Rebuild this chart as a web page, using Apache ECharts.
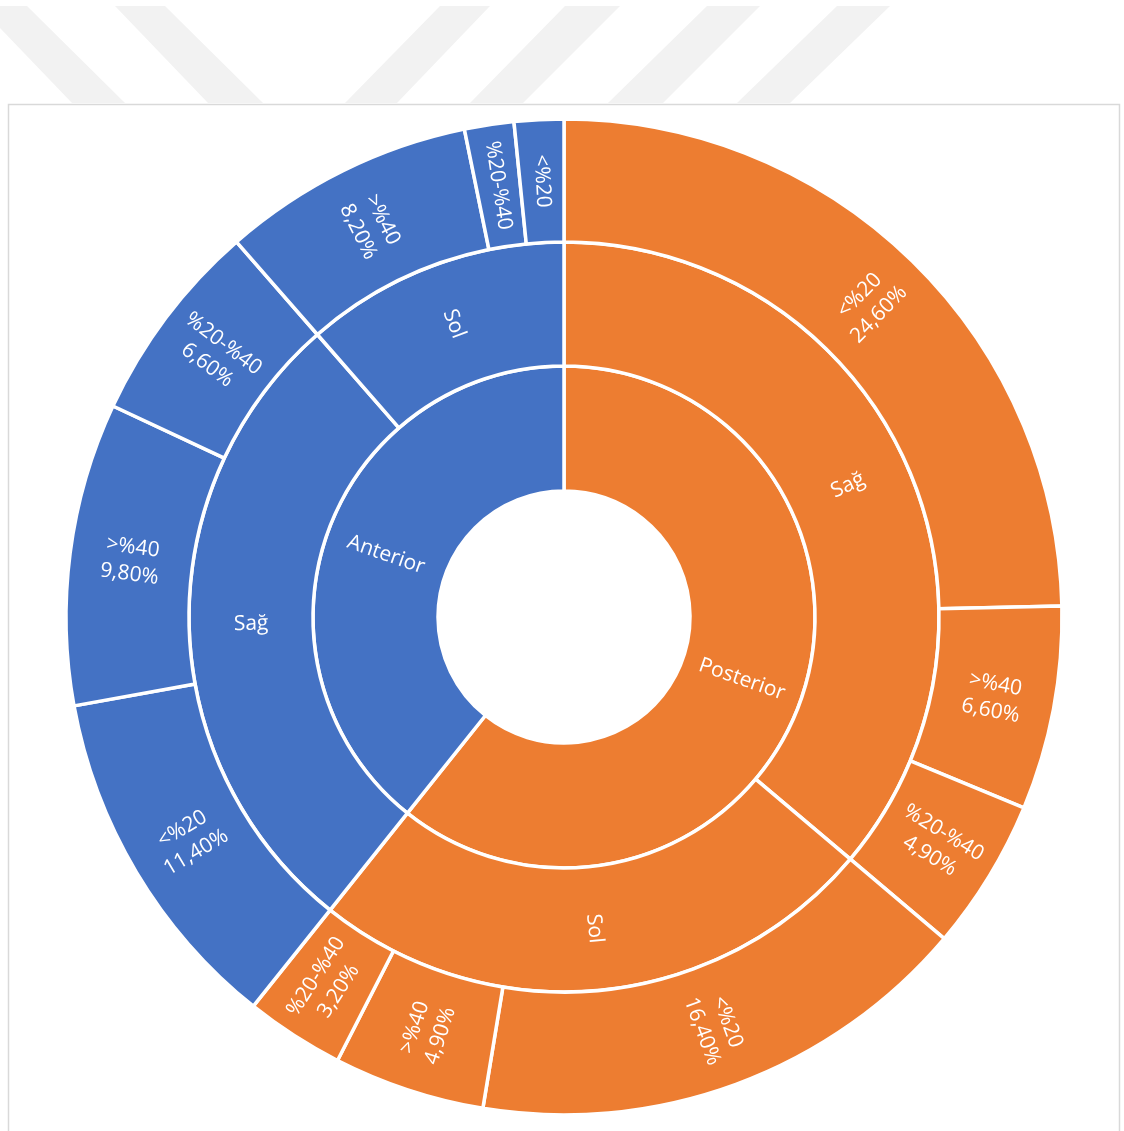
<!DOCTYPE html>
<html>
<head>
<meta charset="utf-8">
<title>Sunburst</title>
<script src="https://cdn.jsdelivr.net/npm/echarts@6/dist/echarts.min.js"></script>
<style>
  html, body { margin: 0; padding: 0; background: #ffffff; }
  #chart { width: 1124px; height: 1131px; }
</style>
</head>
<body>
<div id="chart"></div>
<script>
// Group (inner ring) and side (middle ring) names
const groupNames = ['Posterior', 'Anterior'];
const groupColors = ['#ED7D31', '#4472C4'];
const sideNames = ['Sağ', 'Sol'];

// Outer ring: percentage bands per group / side
const postSagNames = ['<%20', '>%40', '%20-%40'];
const postSagValues = [24.6, 6.6, 4.9];
const postSolNames = ['<%20', '>%40', '%20-%40'];
const postSolValues = [16.4, 4.9, 3.2];
const antSagNames = ['<%20', '>%40', '%20-%40'];
const antSagValues = [11.4, 9.8, 6.6];
const antSolNames = ['>%40', '%20-%40', '<%20'];
const antSolValues = [8.2, 1.6, 1.6];

function leaves(names, values, color) {
  return names.map((n, i) => ({ name: n, value: values[i], itemStyle: { color: color } }));
}

function group(idx, sagNames, sagValues, solNames, solValues) {
  const c = groupColors[idx];
  return {
    name: groupNames[idx],
    itemStyle: { color: c },
    children: [
      { name: sideNames[0], itemStyle: { color: c }, children: leaves(sagNames, sagValues, c) },
      { name: sideNames[1], itemStyle: { color: c }, children: leaves(solNames, solValues, c) }
    ]
  };
}

const treeData = [
  group(0, postSagNames, postSagValues, postSolNames, postSolValues),
  group(1, antSagNames, antSagValues, antSolNames, antSolValues)
];

function pct(v) {
  return v.toFixed(2).replace('.', ',') + '%';
}

// Light diagonal page stripes above the chart frame
const stripeTop = 6, stripeBottom = 103;
const backStripes = [[-21, 27, 72, 125], [115, 165, 208, 263]];
const fwdStripes = [[440, 490, 345, 397], [565, 620, 470, 523], [707, 760, 608, 663], [837, 890, 737, 790]];
const stripeShapes = backStripes.concat(fwdStripes).map(s => ({
  type: 'polygon',
  silent: true,
  shape: { points: [[s[0], stripeTop], [s[1], stripeTop], [s[3], stripeBottom], [s[2], stripeBottom]] },
  style: { fill: '#f2f2f2' },
  z: -10
}));

const chart = echarts.init(document.getElementById('chart'), null, { renderer: 'canvas' });
chart.setOption({
  animation: false,
  graphic: stripeShapes.concat([
    {
      type: 'rect',
      silent: true,
      shape: { x: 8.5, y: 104.5, width: 1111, height: 1100 },
      style: { fill: '#ffffff', stroke: '#d9d9d9', lineWidth: 1.5 },
      z: -5
    }
  ]),
  series: [{
    type: 'sunburst',
    center: [564, 617],
    radius: [126, 498],
    sort: null,
    nodeClick: false,
    data: treeData,
    emphasis: { disabled: true },
    itemStyle: { borderColor: '#ffffff', borderWidth: 3.5 },
    label: {
      rotate: 'radial',
      color: '#ffffff',
      fontSize: 21,
      lineHeight: 27,
      fontFamily: '"Segoe UI", "Open Sans", "Noto Sans", sans-serif',
      formatter: function (p) {
        const d = p.data;
        if (d.children || p.value < 2) return p.name;
        return p.name + '\n' + pct(p.value);
      }
    },
    levels: [
      {},
      { r0: 126, r: 251 },
      { r0: 251, r: 375 },
      { r0: 375, r: 498 }
    ]
  }]
});
</script>
</body>
</html>
